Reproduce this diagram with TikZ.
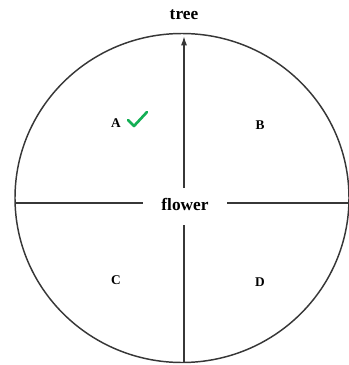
\documentclass[tikz,border=0pt]{standalone}
\usepackage{fontspec}
\setmainfont{Liberation Serif}
\usetikzlibrary{arrows.meta}
\definecolor{checkgreen}{RGB}{20,175,85}
\definecolor{linegray}{RGB}{55,55,55}
\tikzset{
  axisline/.style={draw=linegray, line width=1.1pt},
  bigtext/.style={font=\bfseries\fontsize{13}{15}\selectfont, inner sep=0pt},
  quadtext/.style={font=\bfseries\fontsize{10}{12}\selectfont, inner sep=0pt}
}
\begin{document}
\begin{tikzpicture}[x=0.75pt, y=-0.75pt]
\useasboundingbox (0,0) rectangle (349,365);
\draw[axisline] (182,198) ellipse [x radius=167, y radius=164.5];
\node[bigtext] (flower) at (185,204) {flower};
\node[bigtext] (tree) at (184,15) {tree};
\coordinate (bottom) at (184,362);
\coordinate (top) at (184,36);
\coordinate (left) at (15,203);
\coordinate (right) at (350,203);
\coordinate (gapL) at (143,203);
\coordinate (gapR) at (227,203);
\coordinate (gapT) at (184,188);
\coordinate (gapB) at (184,225);
\draw[axisline] (left) -- (gapL);
\draw[axisline] (gapR) -- (right);
\draw[axisline] (bottom) -- (gapB);
\draw[axisline, -{Latex[length=7pt, width=4.5pt]}] (gapT) -- (top);
\node[quadtext] (A) at (116,123) {A};
\node[quadtext] (B) at (260,125) {B};
\node[quadtext] (C) at (116,280) {C};
\node[quadtext] (D) at (260,282) {D};
\draw[checkgreen, line width=2pt, line cap=round, line join=round]
  (128,120) -- (134,126) -- (147,112);
\end{tikzpicture}
\end{document}
